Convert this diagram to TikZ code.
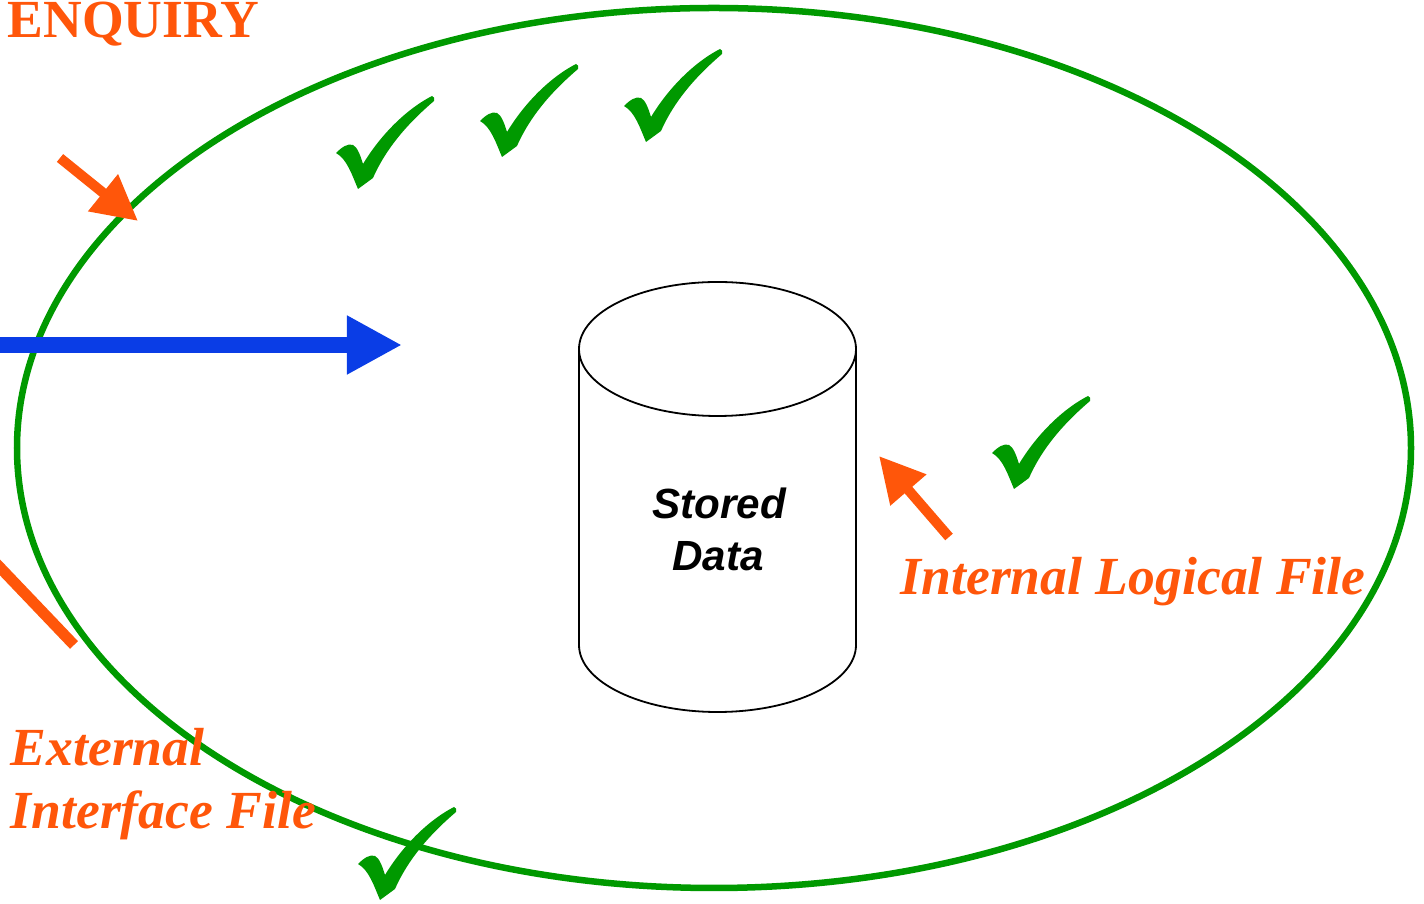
\documentclass[tikz,border=0pt]{standalone}
\usepackage{fontspec}
\setmainfont{Liberation Serif}
\newfontfamily\arialfont{Liberation Sans}
\usetikzlibrary{arrows.meta}

\definecolor{ringgreen}{HTML}{009900}
\definecolor{fporange}{HTML}{FF560A}
\definecolor{flowblue}{HTML}{0A3DE6}

\tikzset{
  ring/.style={draw=ringgreen, line width=0.065cm},
  cyl/.style={draw=black, line width=0.018cm},
  orangearrow/.style={draw=fporange, line width=0.1cm,
    -{Triangle[length=0.45cm, width=0.45cm]}},
  bluearrow/.style={draw=flowblue, line width=0.16cm,
    -{Triangle[length=0.55cm, width=0.55cm]}},
  fplabel/.style={text=fporange, inner sep=0pt,
    font=\fontsize{15.25}{18}\selectfont\bfseries\itshape},
  storedtext/.style={inner sep=0pt,
    font=\arialfont\fontsize{12}{15}\selectfont\bfseries\itshape},
  tick/.pic={
    \fill[ringgreen] (0,0) .. controls (-6,-14) and (-11,-30) .. (-22,-36)
      .. controls (-16,-42) and (-10,-46) .. (-5,-44)
      .. controls (-1,-42) and (2,-35) .. (5,-25)
      .. controls (20,-50) and (45,-78) .. (74,-93)
      .. controls (76,-93) and (77,-90) .. (76,-88)
      .. controls (55,-70) and (30,-45) .. (15,-11) -- cycle;
  }
}

\begin{document}
\begin{tikzpicture}[x={(0.01cm,0)}, y={(0,-0.01cm)}]
  \clip (0,0) rectangle (1424,904);

  % boundary of the application
  \coordinate (app) at (714,448);
  \draw[ring] (app) ellipse [x radius=697, y radius=440];

  % stored data cylinder
  \coordinate (cyltop) at (717.5,349);
  \draw[cyl] (579,349) -- (579,645)
    arc[start angle=180, end angle=0, x radius=138.5, y radius=67] -- (856,349);
  \draw[cyl] (cyltop) ellipse [x radius=138.5, y radius=67];
  \node[storedtext, anchor=base] (stored) at (719,519) {Stored};
  \node[storedtext, anchor=base] (data) at (718,571) {Data};

  % labels
  \node[text=fporange, inner sep=0pt, anchor=base west,
        font=\fontsize{15.25}{18}\selectfont\bfseries] (enq) at (7,38) {ENQUIRY};
  \node[fplabel, anchor=base west] (ilf) at (900,595) {Internal Logical File};
  \node[fplabel, anchor=base west] (eif1) at (10,766) {External};
  \node[fplabel, anchor=base west] (eif2) at (10,829) {Interface File};

  % arrows
  \coordinate (enqtail) at (60,158);
  \coordinate (enqtip) at (138,221);
  \draw[orangearrow] (enqtail) -- (enqtip);

  \coordinate (flowtail) at (-10,345);
  \coordinate (flowtip) at (402,345);
  \draw[bluearrow] (flowtail) -- (flowtip);

  \coordinate (ilftail) at (949,537);
  \coordinate (ilftip) at (879,456);
  \draw[orangearrow] (ilftail) -- (ilftip);

  \coordinate (eiftail) at (-10,557);
  \coordinate (eifend) at (74,645);
  \draw[draw=fporange, line width=0.11cm] (eiftail) -- (eifend);

  % tick marks
  \pic at (358,189) {tick};
  \pic at (502,157) {tick};
  \pic at (646,142) {tick};
  \pic at (1014,489) {tick};
  \pic at (380,900) {tick};
\end{tikzpicture}
\end{document}
